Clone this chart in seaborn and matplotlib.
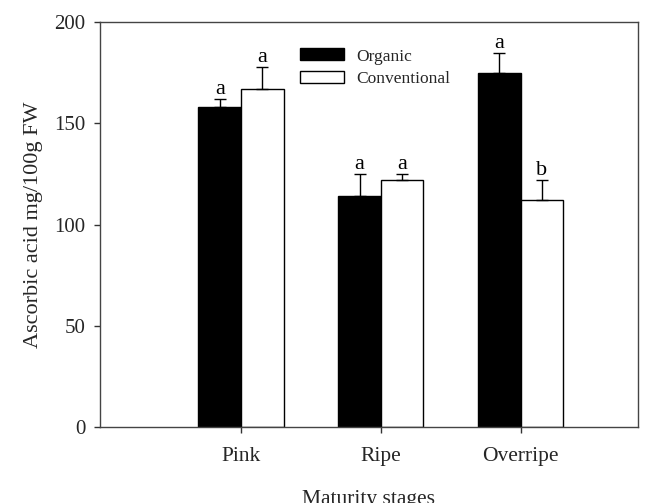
import matplotlib
matplotlib.use("Agg")
import matplotlib.pyplot as plt
import seaborn as sns
import pandas as pd
import numpy as np

stages = ["Pink", "Ripe", "Overripe"]
treatments = ["Organic", "Conventional"]
organic = [158, 114, 175]
conventional = [167, 122, 112]
organic_err = [4, 11, 10]
conventional_err = [11, 3, 10]
organic_letters = ["a", "a", "a"]
conventional_letters = ["a", "a", "b"]

df = pd.DataFrame({
    "stage": stages * 2,
    "treatment": ["Organic"] * 3 + ["Conventional"] * 3,
    "value": organic + conventional,
})

sns.set_theme(style="white")
plt.rcParams["font.family"] = ["Liberation Serif", "DejaVu Serif"]

fig = plt.figure(figsize=(6.49, 5.03), dpi=100)
ax = fig.add_axes([0.154, 0.151, 0.829, 0.805])

sns.barplot(data=df, x="stage", y="value", hue="treatment", order=stages,
            hue_order=treatments, palette={"Organic": "black", "Conventional": "white"},
            width=0.61, gap=0, edgecolor="black", linewidth=1.0, errorbar=None,
            saturation=1, ax=ax)

errs = [organic_err, conventional_err]
vals = [organic, conventional]
letters = [organic_letters, conventional_letters]
bar_containers = list(ax.containers)
for i, cont in enumerate(bar_containers):
    xs = [p.get_x() + p.get_width() / 2 for p in cont.patches]
    ax.errorbar(xs, vals[i], yerr=[np.zeros(len(xs)), errs[i]], fmt="none",
                ecolor="black", elinewidth=1.0, capsize=4.3, capthick=1.0, zorder=3)
    for x, v, e, t in zip(xs, vals[i], errs[i], letters[i]):
        ax.text(x, v + e - 0.2, t, ha="center", va="bottom", fontsize=16, color="black")

ax.set_xlim(-1.01, 2.84)
ax.set_ylim(0, 200)
ax.set_yticks([0, 50, 100, 150, 200])
ax.set_xlabel("Maturity stages", fontsize=15.5, labelpad=17)
ax.set_ylabel("Ascorbic acid mg/100g FW", fontsize=16, labelpad=8)
ax.tick_params(axis="both", which="major", direction="out",
               length=4.5, width=1.0, color="#333333", left=True, bottom=True, pad=6)
ax.tick_params(axis="y", labelsize=15)
ax.tick_params(axis="x", labelsize=15.5, pad=10)
for s in ax.spines.values():
    s.set_color("#444444")
    s.set_linewidth(1.0)

leg = ax.legend(loc="upper left", bbox_to_anchor=(0.372, 0.935), frameon=False,
                fontsize=12.5, handlelength=2.53, handleheight=0.69, handletextpad=0.69,
                labelspacing=0.38, borderaxespad=0, borderpad=0)

fig.savefig("out.png", dpi=100)
